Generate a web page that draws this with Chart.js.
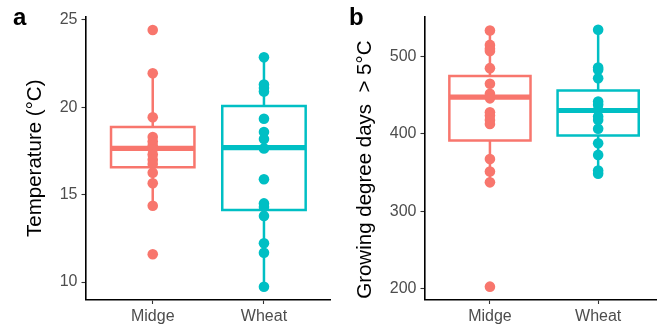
<!DOCTYPE html>
<html><head><meta charset="utf-8">
<script src="https://cdn.jsdelivr.net/npm/chart.js@4.4.1/dist/chart.umd.min.js"></script>
<style>
html,body{margin:0;padding:0;background:#fff;}
#wrap{position:relative;width:662px;height:331px;overflow:hidden;background:#fff;}
canvas{position:absolute;top:0;}
.lab{position:absolute;font:bold 24px "Liberation Sans",Arial,sans-serif;line-height:24px;color:#000;}
</style></head><body>
<div id="wrap">
<canvas id="ca" width="336" height="331" style="left:0"></canvas>
<canvas id="cb" width="326" height="331" style="left:336px"></canvas>
<div class="lab" style="left:13px;top:5px">a</div>
<div class="lab" style="left:349px;top:5px">b</div>
</div>
<script>
const categories = ['Midge', 'Wheat'];
const groupColors = ['#F8766D', '#00BFC4'];

// Panel a: temperature (°C)
const tempMidge = [24.43, 21.95, 19.43, 18.3, 18.05, 17.8, 17.6, 17.3, 17.0, 16.75, 16.26, 15.65, 14.37, 11.59];
const tempWheat = [22.86, 21.3, 21.1, 20.9, 19.35, 18.59, 18.19, 17.65, 15.88, 14.5, 14.3, 13.78, 12.22, 11.68, 9.73];
// box stats: [lower whisker, Q1, median, Q3, upper whisker]
const tempBoxMidge = [14.37, 16.57, 17.65, 18.87, 21.95];
const tempBoxWheat = [9.73, 14.12, 17.69, 20.08, 22.86];
const tempTicks = [10, 15, 20, 25];

// Panel b: growing degree days > 5°C
const gddMidge = [533.5, 515, 510, 507, 485, 464.8, 452, 446, 428, 424, 418, 413, 367.6, 351.6, 337.6, 203];
const gddWheat = [534.5, 485.8, 482.8, 472, 442, 437.7, 431, 422.6, 418, 406.7, 388, 373, 352.9, 348.6];
const gddBoxMidge = [337.6, 391.6, 447.6, 475, 533.5];
const gddBoxWheat = [348.6, 398, 430.3, 456, 534.5];
const gddTicks = [200, 300, 400, 500];

const FF = '"Liberation Sans", Arial, Helvetica, sans-serif';
const HALF = 0.375;

function groupDatasets(points, box, gi) {
  const x = gi + 1, c = groupColors[gi];
  const [lo, q1, med, q3, hi] = box;
  const lineBase = {showLine: true, pointRadius: 0, borderColor: c, fill: false, tension: 0,
                    borderJoinStyle: 'miter', borderCapStyle: 'butt'};
  return [
    {data: points.map(v => ({x: x, y: v})), pointRadius: 5.3, backgroundColor: c,
     borderWidth: 0, pointBorderWidth: 0, showLine: false, order: 0},
    Object.assign({}, lineBase, {data: [{x: x - HALF, y: med}, {x: x + HALF, y: med}], borderWidth: 5.2, order: 1}),
    Object.assign({}, lineBase, {data: [{x: x - HALF, y: q1}, {x: x + HALF, y: q1}, {x: x + HALF, y: q3},
      {x: x - HALF, y: q3}, {x: x - HALF, y: q1}], borderWidth: 2.5, borderCapStyle: 'square', order: 2}),
    Object.assign({}, lineBase, {data: [{x: x, y: lo}, {x: x, y: q1}], borderWidth: 2.5, order: 3}),
    Object.assign({}, lineBase, {data: [{x: x, y: q3}, {x: x, y: hi}], borderWidth: 2.5, order: 3})
  ];
}

function makeChart(id, cfg) {
  const gridOpts = {drawOnChartArea: false, drawTicks: true, tickLength: 4.5, tickColor: '#333333', tickWidth: 1.1};
  const borderOpts = {display: true, color: '#000000', width: 1.6};
  new Chart(document.getElementById(id), {
    type: 'scatter',
    data: {datasets: [].concat(groupDatasets(cfg.p1, cfg.b1, 0), groupDatasets(cfg.p2, cfg.b2, 1))},
    options: {
      responsive: false, animation: false, events: [],
      layout: {padding: {top: 17, left: 0, right: 0, bottom: 0}},
      plugins: {legend: {display: false}, tooltip: {enabled: false}},
      scales: {
        x: {type: 'linear', position: 'bottom', min: 0.4, max: cfg.xmax,
            afterBuildTicks: s => { s.ticks = categories.map((c, i) => ({value: i + 1})); },
            afterFit: s => { s.height = 31.5; },
            grid: gridOpts, border: borderOpts,
            ticks: {color: '#4D4D4D', font: {family: FF, size: 16}, padding: 3,
                    maxRotation: 0, autoSkip: false,
                    callback: (v, i) => categories[i]}},
        y: {type: 'linear', position: 'left', min: cfg.ymin, max: cfg.ymax,
            afterBuildTicks: s => { s.ticks = cfg.ticks.map(v => ({value: v})); },
            afterFit: s => { s.width = cfg.yw; },
            grid: gridOpts, border: borderOpts,
            ticks: {color: '#4D4D4D', font: {family: FF, size: 16}, padding: 4},
            title: {display: true, text: cfg.title, color: '#000000',
                    font: {family: FF, size: 20.5}, padding: {top: cfg.tpad, bottom: 0}}}
      }
    }
  });
}

makeChart('ca', {p1: tempMidge, b1: tempBoxMidge, p2: tempWheat, b2: tempBoxWheat,
  ymin: 9.0, ymax: 25.17, ticks: tempTicks, xmax: 2.6, yw: 86, tpad: 23.5,
  title: 'Temperature (°C)'});
makeChart('cb', {p1: gddMidge, b1: gddBoxMidge, p2: gddWheat, b2: gddBoxWheat,
  ymin: 186.4, ymax: 551, ticks: gddTicks, xmax: 2.541, yw: 89, tpad: 17.5,
  title: 'Growing degree days  > 5°C    '});
</script>
</body></html>
